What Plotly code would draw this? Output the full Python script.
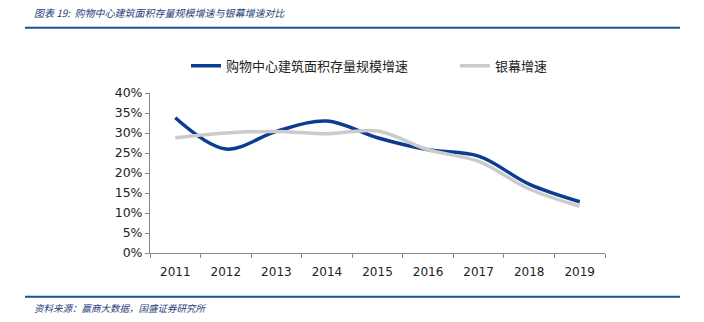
import plotly.graph_objects as go

years = ["2011", "2012", "2013", "2014", "2015", "2016", "2017", "2018", "2019"]
mall_growth = [33.8, 26.0, 30.4, 33.0, 28.8, 25.8, 24.2, 17.2, 12.8]
screen_growth = [28.8, 30.0, 30.4, 29.8, 30.5, 25.8, 22.9, 16.0, 11.7]
y_ticks = [0, 5, 10, 15, 20, 25, 30, 35, 40]
y_tick_labels = [f"{v}%" for v in y_ticks]

CJK = "Noto Sans CJK SC"
L, R, T, B = 150, 605, 93.3, 253.3
W, H = R - L, B - T

def px(x):
    return (x - L) / W

def py(y):
    return (B - y) / H

fig = go.Figure()
fig.add_trace(go.Scatter(
    x=years, y=mall_growth, name="购物中心建筑面积存量规模增速", legend="legend",
    mode="lines", line=dict(color="#0a3d91", width=3.5, shape="spline", smoothing=1.0),
))
fig.add_trace(go.Scatter(
    x=years, y=screen_growth, name="银幕增速", legend="legend2",
    mode="lines", line=dict(color="#cbcbcb", width=3.5, shape="spline", smoothing=1.0),
))

leg_font = dict(family=CJK, size=13, color="#222222")
fig.update_layout(
    width=704, height=322,
    margin=dict(l=L, r=704 - R, t=T, b=322 - B),
    paper_bgcolor="white", plot_bgcolor="white",
    showlegend=True,
    legend=dict(orientation="h", x=px(186), xanchor="left", y=py(66), yanchor="middle",
                font=leg_font, bgcolor="rgba(0,0,0,0)"),
    legend2=dict(orientation="h", x=px(455), xanchor="left", y=py(66), yanchor="middle",
                 font=leg_font, bgcolor="rgba(0,0,0,0)"),
    font=dict(family="DejaVu Sans", size=12, color="#222222"),
)
fig.update_xaxes(
    type="category", range=[-0.5, len(years) - 0.5],
    showline=True, linecolor="#888888", linewidth=1,
    ticks="outside", ticklen=4, tickcolor="#888888", tickson="boundaries",
    ticklabelstandoff=8,
    showgrid=False, tickfont=dict(family="DejaVu Sans", size=12, color="#222222"),
)
fig.update_yaxes(
    range=[0, 40], tickvals=y_ticks, ticktext=y_tick_labels,
    showline=True, linecolor="#888888", linewidth=1,
    ticks="outside", ticklen=4, tickcolor="#888888",
    showgrid=False, zeroline=False,
    tickfont=dict(family="DejaVu Sans", size=12.5, color="#222222"),
)

# header / footer rules
for yline in (28, 297):
    fig.add_shape(type="line", xref="paper", yref="paper",
                  x0=px(25), x1=px(680), y0=py(yline), y1=py(yline),
                  line=dict(color="#1f4e9c", width=2))

fig.add_annotation(
    text="图表 19:  购物中心建筑面积存量规模增速与银幕增速对比",
    xref="paper", yref="paper", x=px(32), y=py(13), xanchor="left", yanchor="middle",
    showarrow=False, font=dict(family=CJK, size=10, color="#1f3d7a", style="italic"),
)
fig.add_annotation(
    text="资料来源：赢商大数据，国盛证券研究所",
    xref="paper", yref="paper", x=px(32), y=py(308), xanchor="left", yanchor="middle",
    showarrow=False, font=dict(family=CJK, size=9.5, color="#1f3d7a", style="italic"),
)

fig.write_html("out.html")
